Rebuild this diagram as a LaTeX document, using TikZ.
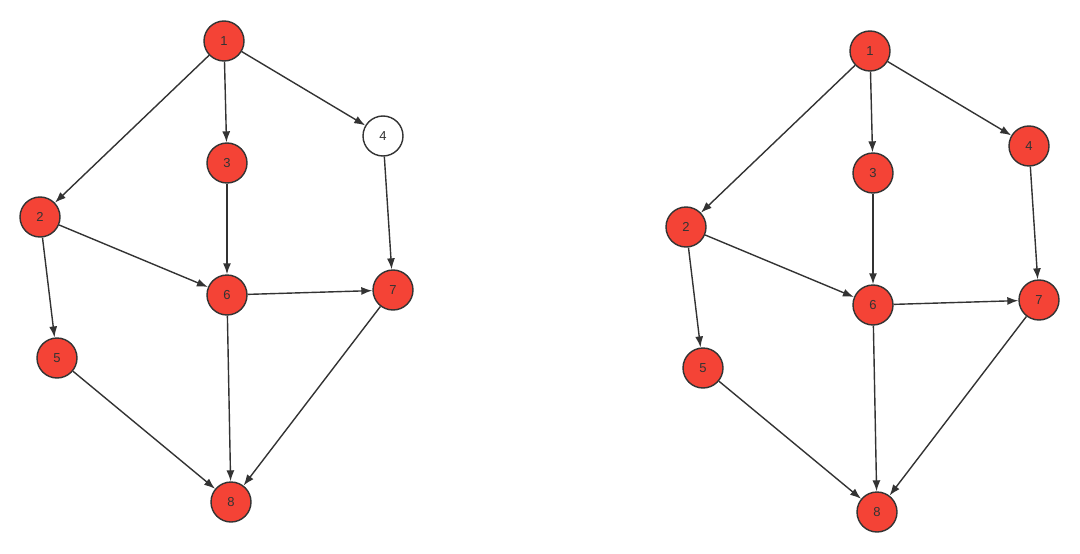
\documentclass[tikz,border=0pt]{standalone}
\usepackage{fontspec}
\setmainfont{Liberation Sans}
\usetikzlibrary{arrows.meta}
\definecolor{nodered}{HTML}{F44336}
\definecolor{edgegray}{HTML}{333333}
\tikzset{
  vnode/.style={circle, draw=edgegray, line width=1.4pt, fill=nodered, minimum size=40pt, inner sep=0pt, text=edgegray, font=\fontsize{13}{15}\selectfont},
  wnode/.style={vnode, fill=white},
  edge/.style={draw=edgegray, line width=1.4pt, -{Latex[length=11pt,width=8pt]}}
}
\begin{document}
\begin{tikzpicture}[x=1pt,y=-1pt]
\useasboundingbox (0,0) rectangle (1080,554);
% left graph
\node[vnode] (a1) at (224,41) {1};
\node[vnode] (a3) at (227,163) {3};
\node[wnode] (a4) at (383,136) {4};
\node[vnode] (a2) at (40,217) {2};
\node[vnode] (a6) at (227,295) {6};
\node[vnode] (a7) at (393,290) {7};
\node[vnode] (a5) at (57,358) {5};
\node[vnode] (a8) at (231,502) {8};
\foreach \s/\t in {1/2,1/3,1/4,3/6,4/7,2/6,2/5,6/7,6/8,5/8,7/8}
  \draw[edge] (a\s) -- (a\t);
% right graph
\node[vnode] (b1) at (870,51) {1};
\node[vnode] (b3) at (873,173) {3};
\node[vnode] (b4) at (1029,146) {4};
\node[vnode] (b2) at (686,227) {2};
\node[vnode] (b6) at (873,305) {6};
\node[vnode] (b7) at (1039,300) {7};
\node[vnode] (b5) at (703,368) {5};
\node[vnode] (b8) at (877,512) {8};
\foreach \s/\t in {1/2,1/3,1/4,3/6,4/7,2/6,2/5,6/7,6/8,5/8,7/8}
  \draw[edge] (b\s) -- (b\t);
\end{tikzpicture}
\end{document}
